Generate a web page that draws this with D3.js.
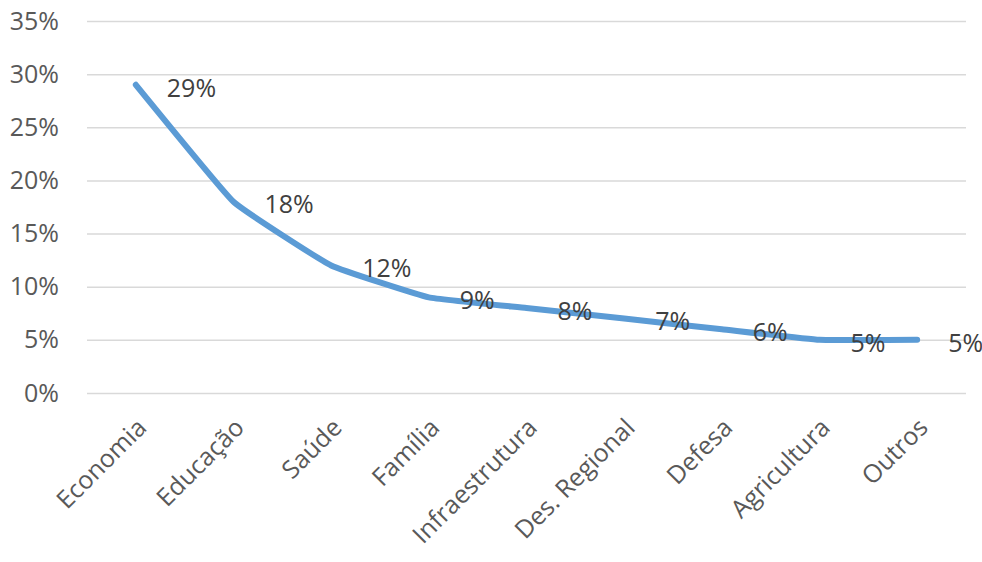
<!DOCTYPE html>
<html>
<head>
<meta charset="utf-8">
<script src="https://cdn.jsdelivr.net/npm/d3@7"></script>
<style>
    body { margin: 0; background: #fff; }
    svg { display: block; }
</style>
</head>
<body>
<svg id="chart" width="982" height="562"></svg>
<script>
var categories = ['Economia', 'Educação', 'Saúde', 'Família', 'Infraestrutura',
    'Des. Regional', 'Defesa', 'Agricultura', 'Outros'];
var values = [29, 18, 12, 9, 8, 7, 6, 5, 5];
var yTicks = [0, 5, 10, 15, 20, 25, 30, 35];

var svg = d3.select('#chart');
var margin = { top: 21, right: 16, bottom: 169, left: 87 };
var width = 982 - margin.left - margin.right;
var height = 562 - margin.top - margin.bottom;
var font = '"Open Sans", sans-serif';

var x = d3.scaleBand().domain(categories).range([0, width]);
var y = d3.scaleLinear().domain([0, 35]).range([height, 0]);

var g = svg.append('g').attr('transform', 'translate(' + margin.left + ',' + margin.top + ')');

// gridlines + y labels
var yAxis = g.append('g')
    .call(d3.axisLeft(y).tickValues(yTicks).tickSize(-width).tickPadding(28)
        .tickFormat(function(d) { return d + '%'; }));
yAxis.select('.domain').remove();
yAxis.selectAll('line').attr('stroke', '#d9d9d9').attr('stroke-width', 1.5);
yAxis.selectAll('text')
    .attr('fill', '#595959')
    .style('font-family', font)
    .style('font-size', '25px');

// x labels
var xAxis = g.append('g')
    .attr('transform', 'translate(0,' + height + ')')
    .call(d3.axisBottom(x).tickSize(0).tickPadding(0));
xAxis.select('.domain').remove();
xAxis.selectAll('text')
    .attr('fill', '#595959')
    .style('font-family', font)
    .style('font-size', '25px')
    .attr('text-anchor', 'end')
    .attr('dy', '0.35em')
    .attr('transform', 'translate(6,30) rotate(-45)');

var cx = function(d, i) { return x(categories[i]) + x.bandwidth() / 2; };

var line = d3.line()
    .x(cx)
    .y(function(d) { return y(d); })
    .curve(d3.curveCardinal.tension(0.7));

g.append('path')
    .datum(values)
    .attr('fill', 'none')
    .attr('stroke', '#5b9bd5')
    .attr('stroke-width', 6)
    .attr('stroke-linecap', 'round')
    .attr('stroke-linejoin', 'round')
    .attr('d', line);

g.selectAll('.label')
    .data(values)
    .enter().append('text')
    .attr('class', 'label')
    .attr('x', function(d, i) { return cx(d, i) + 31; })
    .attr('y', function(d) { return y(d) + 3; })
    .attr('dy', '0.35em')
    .attr('fill', '#404040')
    .style('font-family', font)
    .style('font-size', '25px')
    .text(function(d) { return d + '%'; });
</script>
</body>
</html>
